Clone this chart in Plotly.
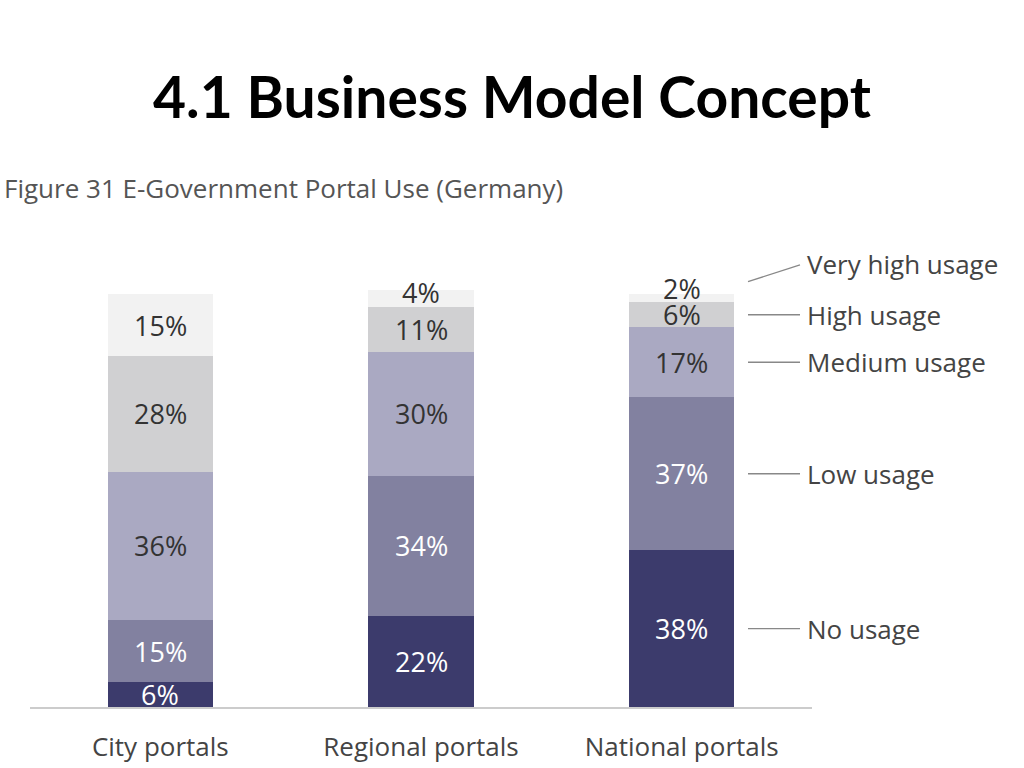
import plotly.graph_objects as go

categories = ["City portals", "Regional portals", "National portals"]
series_names = ["No usage", "Low usage", "Medium usage", "High usage", "Very high usage"]
no_usage = [6, 22, 38]
low_usage = [15, 34, 37]
medium_usage = [36, 30, 17]
high_usage = [28, 11, 6]
very_high_usage = [15, 4, 2]
series_values = [no_usage, low_usage, medium_usage, high_usage, very_high_usage]
colors = ["#3c3b6c", "#8281a0", "#aaa9c2", "#d0d0d2", "#f2f2f2"]
label_colors = ["white", "white", "#333333", "#333333", "#333333"]

YMAX = 101
L, R, T, B = 30, 212, 290, 61
W, H = 1024, 768
PW, PH = W - L - R, H - T - B

fig = go.Figure()
for name, vals, col in zip(series_names, series_values, colors):
    fig.add_trace(go.Bar(x=list(range(len(categories))), y=vals, name=name,
                         marker=dict(color=col, line=dict(width=0)), width=0.405,
                         hoverinfo="y+name"))

annotations = []
# data labels
base = [0] * len(categories)
for si, vals in enumerate(series_values):
    for ci, v in enumerate(vals):
        yc = base[ci] + v / 2
        shift = 0
        if v <= 2:
            shift = 10
        elif v <= 4:
            shift = 6
        annotations.append(dict(x=ci, y=yc, xref="x", yref="y", text=f"{v}%",
                                showarrow=False, yshift=shift,
                                font=dict(family="Open Sans", size=27, color=label_colors[si])))
        base[ci] += v

def px_to_xpaper(px):
    return (px - L) / PW

def val_to_ypaper(v):
    return v / YMAX

nat = [s[2] for s in series_values]
cum = 0
centers = []
for v in nat:
    centers.append(cum + v / 2)
    cum += v

shapes = []
for i, name in enumerate(series_names):
    yc = centers[i]
    if name == "Very high usage":
        y_text = yc + 8.3
        y_line0 = yc + 4.0
        shapes.append(dict(type="line", xref="paper", yref="paper",
                           x0=px_to_xpaper(748), x1=px_to_xpaper(800),
                           y0=val_to_ypaper(y_line0), y1=val_to_ypaper(y_line0 + 4.1),
                           line=dict(color="#888888", width=1.3)))
    else:
        y_text = yc
        shapes.append(dict(type="line", xref="paper", yref="paper",
                           x0=px_to_xpaper(748), x1=px_to_xpaper(800),
                           y0=val_to_ypaper(yc), y1=val_to_ypaper(yc),
                           line=dict(color="#888888", width=1.3)))
    annotations.append(dict(x=px_to_xpaper(805), y=val_to_ypaper(y_text), xref="paper", yref="paper",
                            text=name, showarrow=False, xanchor="left", yanchor="middle",
                            font=dict(family="Open Sans", size=26, color="#444444")))

# subtitle
annotations.append(dict(x=px_to_xpaper(2), y=(H - B - 188) / PH, xref="paper", yref="paper",
                        text="Figure 31 E-Government Portal Use (Germany)", showarrow=False,
                        xanchor="left", yanchor="middle",
                        font=dict(family="Open Sans", size=26, color="#555555")))

fig.update_layout(
    width=W, height=H,
    margin=dict(l=L, r=R, t=T, b=B, pad=0, autoexpand=False),
    paper_bgcolor="white", plot_bgcolor="white",
    barmode="stack", showlegend=False,
    title=dict(text="<b>4.1 Business Model Concept</b>", x=512 / W, xref="container",
               y=1 - 98 / H, yref="container", xanchor="center", yanchor="middle",
               font=dict(family="Lato", size=57, color="black")),
    xaxis=dict(range=[-0.5, 2.5], tickmode="array", tickvals=list(range(len(categories))),
               ticktext=categories, showgrid=False, zeroline=False, showline=True,
               linecolor="#cccccc", linewidth=2, ticks="", ticklabelstandoff=16,
               automargin=False,
               tickfont=dict(family="Open Sans", size=26, color="#444444")),
    yaxis=dict(range=[0, YMAX], visible=False, showgrid=False, zeroline=False, automargin=False),
    annotations=annotations, shapes=shapes,
)

fig.write_html("out.html", config={"displayModeBar": False},
               post_script="document.body.style.margin='0';document.body.style.overflow='hidden';")
